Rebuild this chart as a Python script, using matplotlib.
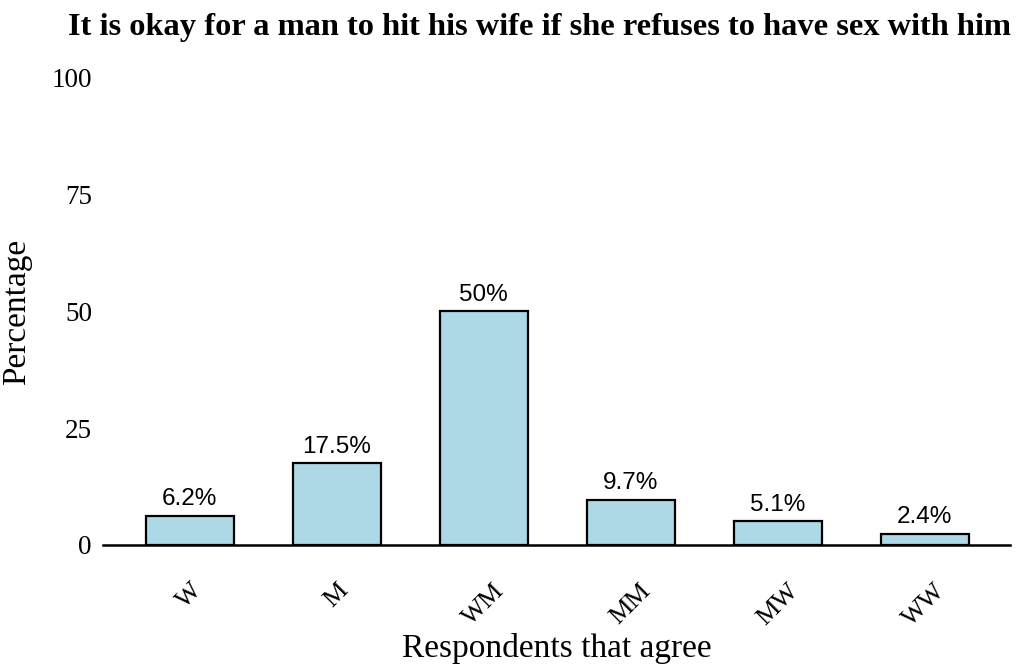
import matplotlib
matplotlib.use("Agg")
import matplotlib.pyplot as plt
import numpy as np

categories = ["W", "M", "WM", "MM", "MW", "WW"]
values = [6.2, 17.5, 50.0, 9.7, 5.1, 2.4]
labels = ["6.2%", "17.5%", "50%", "9.7%", "5.1%", "2.4%"]
yticks = [0, 25, 50, 75, 100]

plt.rcParams["font.family"] = ["Liberation Serif", "DejaVu Serif"]

fig = plt.figure(figsize=(10.32, 6.70), dpi=100)
ax = fig.add_axes([0.0998, 0.1866, 0.8789, 0.697])

x = np.arange(len(categories))
ax.bar(x, values, 0.6, color="#ADD8E6", edgecolor="black", linewidth=1.6, zorder=2)

for xi, v, lab in zip(x, values, labels):
    ax.annotate(lab, (xi, v), textcoords="offset points", xytext=(0, 4),
                ha="center", va="bottom", fontsize=17.5,
                family=["Liberation Sans", "DejaVu Sans"])

ax.set_xlim(-0.59, 5.58)
ax.set_ylim(0, 100)
ax.set_yticks(yticks)
ax.set_yticklabels([str(t) for t in yticks], fontsize=19.5)
ax.set_xticks(x)
ax.set_xticklabels(categories, fontsize=19, rotation=45, ha="center")
ax.tick_params(axis="y", length=0, pad=8)
ax.tick_params(axis="x", length=0, pad=25)

for side in ["top", "right", "left"]:
    ax.spines[side].set_visible(False)
ax.spines["bottom"].set_linewidth(1.8)

ax.set_xlabel("Respondents that agree", fontsize=24, labelpad=2)
ax.set_ylabel("Percentage", fontsize=24, labelpad=14)

fig.text(68 / 1032, 1 - 28 / 670,
         "It is okay for a man to hit his wife if she refuses to have sex with him",
         ha="left", va="center", fontsize=23.3, fontweight="bold")

fig.savefig("out.png", dpi=100, facecolor="white")
